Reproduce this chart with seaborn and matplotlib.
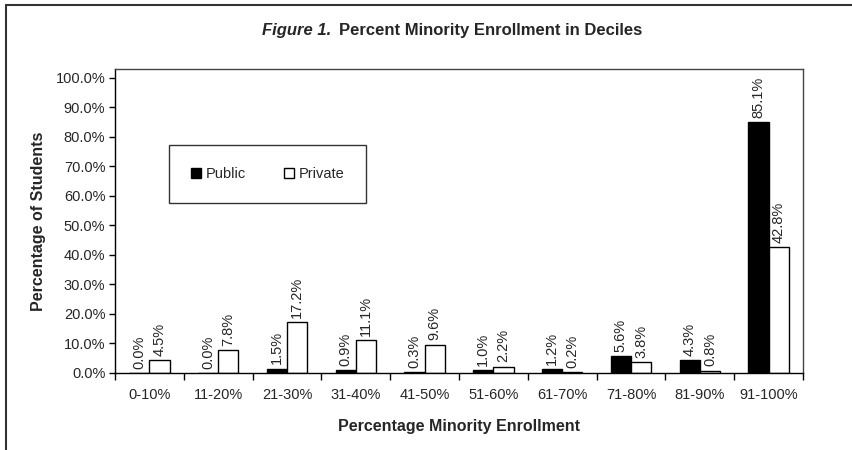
import pandas as pd
import numpy as np
import seaborn as sns
import matplotlib.pyplot as plt
from matplotlib.patches import Patch
from matplotlib.ticker import FixedLocator, FuncFormatter


# Chart data
deciles = ['0-10%', '11-20%', '21-30%', '31-40%', '41-50%',
           '51-60%', '61-70%', '71-80%', '81-90%', '91-100%']
public = [0.0, 0.0, 1.5, 0.9, 0.3, 1.0, 1.2, 5.6, 4.3, 85.1]
private = [4.5, 7.8, 17.2, 11.1, 9.6, 2.2, 0.2, 3.8, 0.8, 42.8]
y_ticks = [0, 10, 20, 30, 40, 50, 60, 70, 80, 90, 100]

df = pd.DataFrame({
    'Decile': deciles * 2,
    'Pct': public + private,
    'Sector': ['Public'] * len(deciles) + ['Private'] * len(deciles),
})

sns.set_theme(style='white')
plt.rcParams['font.family'] = ['Liberation Sans', 'DejaVu Sans']

fig = plt.figure(figsize=(8.53, 4.5), dpi=100)
ax = fig.add_axes([115 / 853, 77 / 450, 688 / 853, 304 / 450])

sns.barplot(
    data=df, x='Decile', y='Pct', hue='Sector', order=deciles,
    hue_order=['Public', 'Private'], palette=['black', 'white'],
    edgecolor='black', linewidth=1, width=0.59, ax=ax, legend=False)

# Data labels above the bars
for cont in ax.containers:
    ax.bar_label(cont, fmt='%.1f%%', rotation=90, padding=3, fontsize=10.5)

ax.set_ylim(0, 103)
ax.set_xlim(-0.5, 9.5)
ax.yaxis.set_major_locator(FixedLocator(y_ticks))
ax.yaxis.set_major_formatter(FuncFormatter(lambda v, p: '%.1f%%' % v))
ax.tick_params(axis='y', which='major', left=True, length=4, width=1,
               color='black', labelsize=10.5, pad=3)
# Category ticks between groups
ax.xaxis.set_minor_locator(FixedLocator(np.arange(-0.5, 10, 1)))
ax.tick_params(axis='x', which='major', length=0, labelsize=10.5, pad=11)
ax.tick_params(axis='x', which='minor', bottom=True, length=5, width=1,
               color='black')

for s in ax.spines.values():
    s.set_color('black')
    s.set_linewidth(1)
ax.spines['top'].set_color('#444444')
ax.spines['right'].set_color('#444444')

ax.set_xlabel('Percentage Minority Enrollment', fontsize=11.5,
              fontweight='bold', labelpad=12)
ax.set_ylabel('Percentage of Students', fontsize=11.5,
              fontweight='bold', labelpad=7)

# Legend box
handles = [Patch(facecolor='black', edgecolor='black', label='Public'),
           Patch(facecolor='white', edgecolor='black', label='Private')]
leg = ax.legend(
    handles=handles, loc='center', bbox_to_anchor=(0.2217, 0.6546),
    ncol=2, frameon=True, fancybox=False, fontsize=10.5,
    handlelength=0.7, handleheight=0.7, handletextpad=0.3,
    columnspacing=2.6, borderpad=1.5, borderaxespad=0)
leg.get_frame().set_edgecolor('black')
leg.get_frame().set_linewidth(1)

# Title with italic figure number
fig.text(331 / 853, 0.933, 'Figure 1.', fontsize=12, fontweight='bold',
         fontstyle='italic', ha='right', va='center')
fig.text(339 / 853, 0.933, 'Percent Minority Enrollment in Deciles',
         fontsize=12, fontweight='bold', ha='left', va='center')

# Outer chart border (left and top edges visible)
fig.add_artist(plt.Line2D([6 / 853, 6 / 853], [0, 1 - 5 / 450],
                          transform=fig.transFigure, color='#333333', lw=1.5))
fig.add_artist(plt.Line2D([6 / 853, 1], [1 - 5 / 450, 1 - 5 / 450],
                          transform=fig.transFigure, color='#333333', lw=1.5))

plt.savefig('out.png', dpi=100)
